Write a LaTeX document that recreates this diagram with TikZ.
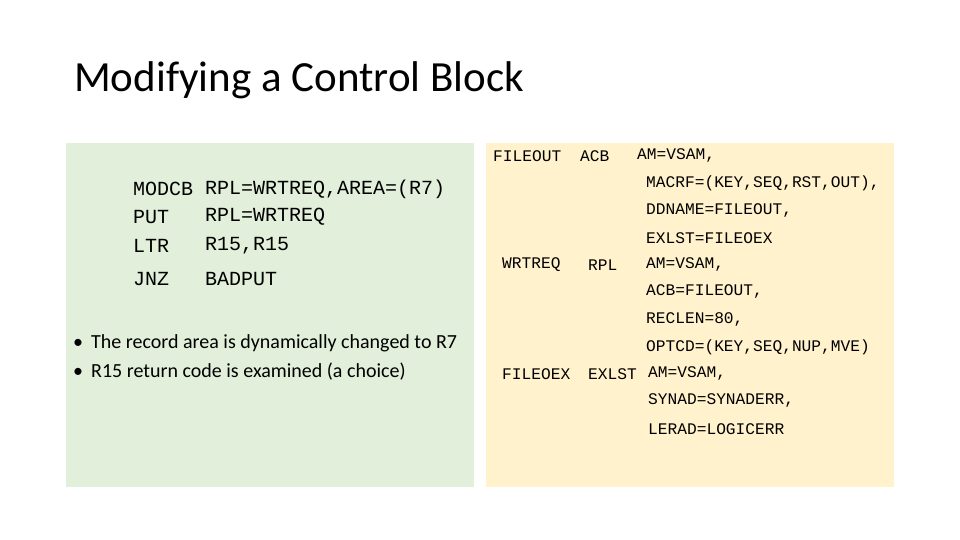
\documentclass[tikz,border=0pt]{standalone}
\usepackage{fontspec}
\setmainfont{Carlito}
\newfontfamily\mono{Liberation Mono}
\definecolor{gbox}{HTML}{E2EFDA}
\definecolor{ybox}{HTML}{FFF2CC}
\begin{document}
\begin{tikzpicture}[x=1pt,y=-1pt,
  big/.style={anchor=west,inner sep=0,font=\mono\fontsize{20}{24}\selectfont},
  sm/.style={anchor=west,inner sep=0,font=\mono\fontsize{16.2}{19}\selectfont},
  bul/.style={anchor=west,inner sep=0,font=\fontsize{20}{24}\selectfont}]
\useasboundingbox (0,0) rectangle (960,540);
\node[anchor=west,inner sep=0,font=\fontsize{43}{50}\selectfont] (title) at (74,80) {Modifying a Control Block};
\fill[gbox] (66,143) rectangle (474,487);
\fill[ybox] (486,143) rectangle (894,487);
\foreach \a/\b/\y [count=\i] in {MODCB/{RPL=WRTREQ,AREA=(R7)}/189, PUT/RPL=WRTREQ/217, LTR/{R15,R15}/246, JNZ/BADPUT/279}{
  \node[big] (l\i) at (133,\y) {\a};
  \node[big] (r\i) at (205,\y) {\b};}
\node[bul] (b1) at (73,343) {•\hspace{8pt}The record area is dynamically changed to R7};
\node[bul] (b2) at (73,372) {•\hspace{8pt}R15 return code is examined (a choice)};
\node[sm] (a1) at (493,156) {FILEOUT};
\node[sm] (a2) at (580,156) {ACB};
\node[sm] (a3) at (637,156) {AM=VSAM,};
\node[sm] (a4) at (646,183) {MACRF=(KEY,SEQ,RST,OUT),};
\node[sm] (a5) at (646,211) {DDNAME=FILEOUT,};
\node[sm] (a6) at (646,238) {EXLST=FILEOEX};
\node[sm] (b1n) at (502,265) {WRTREQ};
\node[sm] (b2n) at (588,265) {RPL};
\node[sm] (b3n) at (646,265) {AM=VSAM,};
\node[sm] (b4n) at (646,292) {ACB=FILEOUT,};
\node[sm] (b5n) at (646,320) {RECLEN=80,};
\node[sm] (b6n) at (646,347) {OPTCD=(KEY,SEQ,NUP,MVE)};
\node[sm] (c1) at (502,374) {FILEOEX};
\node[sm] (c2) at (588,374) {EXLST};
\node[sm] (c3) at (648,374) {AM=VSAM,};
\node[sm] (c4) at (648,401) {SYNAD=SYNADERR,};
\node[sm] (c5) at (648,429) {LERAD=LOGICERR};
\end{tikzpicture}
\end{document}
